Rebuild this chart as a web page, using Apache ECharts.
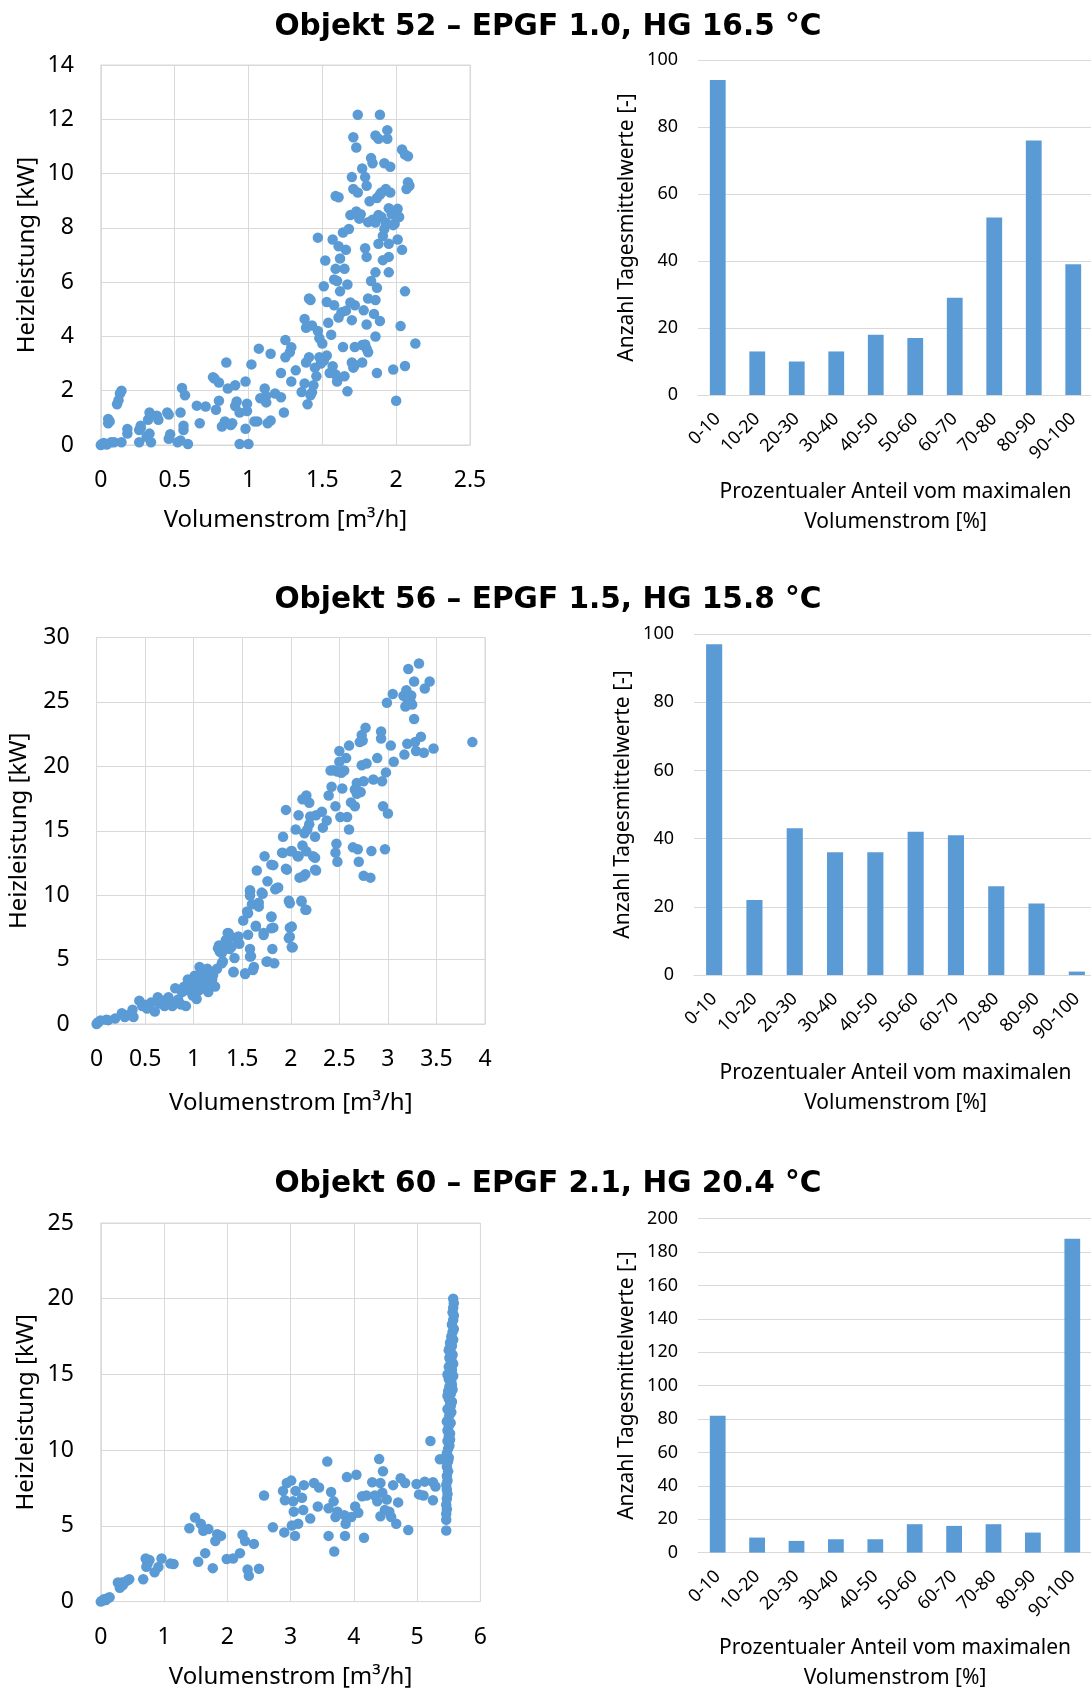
<!DOCTYPE html>
<html><head><meta charset="utf-8">
<script src="https://cdn.jsdelivr.net/npm/echarts@6/dist/echarts.min.js"></script>
<style>html,body{margin:0;padding:0;background:#fff}#c{width:1091px;height:1690px}</style>
</head><body><div id="c"></div>
<script>
const titles = ['Objekt 52 – EPGF 1.0, HG 16.5 °C', 'Objekt 56 – EPGF 1.5, HG 15.8 °C', 'Objekt 60 – EPGF 2.1, HG 20.4 °C'];
const binLabels = ['0-10','10-20','20-30','30-40','40-50','50-60','60-70','70-80','80-90','90-100'];
const bars52 = [94,13,10,13,18,17,29,53,76,39];
const bars56 = [97,22,43,36,36,42,41,26,21,1];
const bars60 = [82,9,7,8,8,17,16,17,12,188];
const xAxisMax = [2.5, 4, 6];
const xAxisStep = [0.5, 0.5, 1];
const yAxisMax = [14, 30, 25];
const yAxisStep = [2, 5, 5];
const barAxisMax = [100, 100, 200];
const barAxisStep = [20, 20, 20];
const scNameX = 'Volumenstrom [m³/h]';
const scNameY = 'Heizleistung [kW]';
const barNameX = 'Prozentualer Anteil vom maximalen\nVolumenstrom [%]';
const barNameY = 'Anzahl Tagesmittelwerte [-]';

const scatter52 = [
[0,0],[0.01,0.05],[0.02,0.07],[0.04,0.02],[0.07,0.1],[0.09,0.1],[0.14,0.1],
[0.05,0.8],[0.06,0.87],[0.05,0.96],
[0.11,1.5],[0.12,1.65],[0.13,1.9],[0.14,2.0],
[0.18,0.42],[0.18,0.59],[0.26,0.1],[0.26,0.55],[0.27,0.62],[0.27,0.71],
[0.32,0.93],[0.33,0.42],[0.34,0.1],[0.34,1.1],[0.31,0.3],[0.33,1.2],[0.38,1.08],
[0.39,0.93],[0.45,1.2],[0.46,1.12],[0.47,0.4],
[0.46,0.23],[0.52,0.1],[0.54,0.17],[0.59,0.04],
[0.54,1.2],[0.55,2.1],[0.57,1.83],[0.56,0.55],[0.56,0.71],
[0.65,1.45],[0.67,0.8],[0.71,1.42],
[0.76,2.5],[0.78,1.3],[0.8,2.3],[0.8,1.63],[0.77,2.45],
[0.82,0.68],[0.84,0.87],[0.85,3.04],[0.86,2.08],[0.88,0.74],[0.89,0.8],
[0.91,1.44],[0.91,2.2],[0.92,1.6],[0.94,0.04],[1.0,0.04],
[0.94,1.2],[0.98,2.34],[0.98,0.6],[0.99,1.25],[0.99,1.52],[1.02,2.97],[1.04,0.87],[1.06,0.87],
[1.07,3.55],[1.08,1.72],[1.11,2.08],[1.12,1.8],[1.12,1.57],[1.13,0.8],[1.15,0.9],[1.15,3.36],
[1.18,1.9],[1.22,2.65],[1.22,1.76],[1.24,1.2],[1.25,3.87],[1.25,3.23],[1.28,3.42],[1.29,3.6],
[1.29,2.34],[1.32,2.75],[1.36,1.95],[1.38,2.27],[1.39,3.04],[1.4,1.5],[1.41,3.23],[1.42,1.83],[1.44,2.2],[1.43,1.94],
[1.38,4.64],[1.39,4.32],[1.41,5.4],[1.42,5.34],[1.43,4.4],[1.45,2.85],[1.46,2.53],[1.47,7.64],[1.48,3.93],
[1.48,3.23],[1.5,3.74],[1.51,3.1],[1.53,3.3],[1.52,6.8],[1.51,5.85],[1.54,4.5],[1.53,5.27],[1.47,4.2],[1.49,3.0],
[1.55,2.65],[1.56,4.06],[1.57,7.57],[1.58,5.15],[1.57,2.9],
[1.59,9.17],[1.61,9.13],[1.59,2.6],[1.6,2.34],
[1.59,6.49],[1.6,6.04],[1.61,7.32],[1.62,5.66],[1.62,6.87],[1.58,6.1],[1.61,4.7],
[1.63,4.89],[1.64,3.61],[1.64,7.83],[1.65,2.53],[1.65,6.49],[1.66,7.19],[1.67,1.98],[1.67,5.91],[1.68,7.96],[1.66,4.95],
[1.69,8.47],[1.7,9.87],[1.71,11.34],[1.72,5.15],[1.71,9.43],[1.7,3.04],[1.71,2.85],[1.72,3.61],[1.73,10.96],[1.7,4.6],[1.69,5.25],[1.72,2.95],
[1.74,12.17],[1.74,9.3],[1.73,8.6],[1.75,8.34],[1.77,3.68],[1.77,3.04],[1.77,10.19],[1.78,4.96],[1.76,8.5],
[1.79,9.87],[1.8,9.55],[1.79,7.25],[1.8,6.93],[1.8,4.44],[1.81,3.42],[1.81,5.4],[1.81,8.21],[1.79,3.7],[1.8,3.55],
[1.82,8.98],[1.83,6.04],[1.83,10.57],[1.84,10.38],[1.85,4.83],[1.86,5.34],[1.86,11.4],[1.86,4.0],[1.84,8.3],
[1.87,2.65],[1.86,6.36],[1.87,5.79],[1.88,7.41],[1.88,8.47],[1.89,12.17],[1.88,11.28],[1.89,9.23],[1.87,9.1],[1.86,8.2],
[1.89,4.57],[1.91,6.81],[1.92,10.38],[1.92,7.96],[1.93,9.43],[1.94,11.6],[1.94,11.28],[1.95,7.41],[1.9,8.4],[1.91,7.7],[1.93,8.2],[1.9,9.3],
[1.95,6.36],[1.95,8.72],[1.95,6.93],[1.96,10.25],[1.96,9.3],[1.98,2.78],[1.99,8.15],[2.0,8.6],[1.97,8.5],[1.98,8.1],
[2.01,7.57],[2.0,1.63],[2.03,4.38],[2.02,8.4],[2.04,7.19],[2.04,10.89],[2.06,10.7],[2.06,5.66],[2.01,8.7],
[2.06,2.91],[2.07,9.43],[2.08,9.68],[2.08,10.64],[2.09,9.55],[2.13,3.74]
];

const scatter56 = [
[0,0],[0.01,0.1],[0.02,0.15],[0.04,0.28],[0.1,0.33],[0.12,0.3],[0.19,0.42],
[0.26,0.83],[0.29,0.55],[0.37,1.1],[0.38,0.55],[0.33,0.7],
[0.44,1.8],[0.47,1.39],[0.5,1.5],[0.56,1.66],[0.52,1.2],
[0.6,0.97],[0.63,2.08],[0.69,1.8],[0.74,2.08],[0.65,1.6],[0.7,1.4],
[0.78,1.39],[0.81,2.77],[0.87,1.52],[0.92,1.39],[0.84,1.9],[0.8,1.6],
[0.88,2.49],[0.94,3.46],[0.97,3.05],[1.01,3.74],[0.95,2.6],[0.99,2.2],[0.9,2.9],[0.96,3.3],[1.0,2.9],
[1.03,1.94],[1.06,4.43],[1.08,2.77],[1.12,3.6],[1.04,3.3],[1.05,2.6],[1.09,3.9],[1.02,3.5],[1.1,3.1],
[1.14,4.29],[1.15,2.49],[1.19,3.46],[1.22,2.91],[1.16,3.9],[1.2,3.8],[1.13,3.2],
[1.24,4.29],[1.26,6.09],[1.3,4.85],[1.33,6.5],[1.27,5.6],[1.29,5.5],[1.31,5.9],
[1.35,7.06],[1.37,5.82],[1.41,4.02],[1.42,5.12],[1.36,7.04],[1.39,6.0],[1.25,5.87],[1.29,4.71],[1.34,6.3],[1.38,6.8],
[1.44,6.65],[1.47,6.23],[1.51,8.03],[1.53,3.88],[1.41,4.06],[1.53,3.94],[1.46,6.8],
[1.55,8.73],[1.56,6.93],[1.58,5.82],[1.58,9.97],[1.58,10.39],[1.59,5.26],[1.62,4.43],[1.64,7.62],[1.58,10.28],[1.56,8.6],[1.61,4.19],[1.58,5.23],[1.6,9.3],
[1.65,11.91],[1.67,9.42],[1.71,10.11],[1.72,7.06],[1.7,10.2],[1.67,9.11],[1.64,7.56],[1.72,6.91],
[1.73,13.02],[1.76,11.08],[1.76,4.85],[1.8,8.31],[1.81,5.82],[1.82,12.33],[1.82,7.48],[1.83,4.71],[1.8,12.37],[1.84,10.46],[1.8,8.34],[1.8,7.43],[1.75,4.84],
[1.85,10.53],[1.87,10.6],[1.92,14.54],[1.95,16.62],[1.91,13.3],[1.92,13.28],[1.96,11.98],
[1.95,12.05],[1.98,9.56],[1.98,6.65],[1.99,7.48],[2.01,5.96],[2.01,13.43],[2.0,13.4],[1.99,9.37],[2.01,7.56],[1.99,6.78],[2.02,5.95],
[2.05,15.1],[2.07,13.02],[2.08,16.2],[2.09,11.36],[2.11,9.56],[2.12,13.85],[2.12,17.45],[2.08,13.02],[2.11,9.5],[2.13,11.47],[2.15,8.86],
[2.15,11.63],[2.16,8.86],[2.16,17.73],[2.17,15.1],[2.19,15.51],[2.19,17.17],[2.16,13.4],[2.14,14.8],[2.2,16.1],
[2.23,13.02],[2.25,14.54],[2.26,11.91],[2.26,16.2],[2.25,12.9],[2.25,11.98],[2.32,16.48],
[2.33,15.24],[2.37,15.79],[2.39,17.73],[2.41,19.67],[2.42,18.42],[2.46,16.9],[2.47,13.99],[2.46,13.3],[2.48,12.6],
[2.5,21.19],[2.5,20.36],[2.51,16.07],[2.53,18.28],[2.55,19.67],[2.57,20.64],[2.58,16.07],[2.44,19.7],[2.52,19.5],[2.48,19.6],
[2.6,15.1],[2.6,21.61],[2.64,13.71],[2.66,16.9],[2.68,17.87],[2.68,18.7],[2.69,13.57],[2.7,12.6],[2.62,17.2],[2.66,18.2],
[2.71,21.88],[2.73,20.08],[2.73,22.44],[2.75,11.5],[2.75,18.84],[2.77,22.99],[2.78,20.22],[2.82,11.36],[2.72,18.0],[2.74,22.0],
[2.83,13.43],[2.85,18.98],[2.89,20.64],[2.93,22.71],[2.93,22.16],[2.94,18.84],[2.95,16.9],[2.97,13.57],
[2.98,19.53],[3.0,16.34],[2.99,24.93],[3.03,21.61],[3.05,25.62],[3.06,20.36],[3.16,25.48],[3.17,20.91],
[3.18,24.65],[3.19,25.9],[3.2,21.75],[3.21,27.56],[3.23,25.07],[3.25,24.79],[3.27,23.68],[3.27,26.59],[3.2,25.2],[3.22,24.9],[3.24,25.5],
[3.28,21.88],[3.29,21.19],[3.32,27.98],[3.34,22.3],[3.37,21.05],[3.38,26.04],[3.43,26.59],[3.47,21.39],
[3.87,21.88]
];

const scatter60 = [
[0,0],[0.02,0.05],[0.05,0.16],[0.11,0.23],[0.14,0.28],[0.08,0.1],
[0.27,1.26],[0.3,0.91],[0.33,1.26],[0.41,1.37],[0.45,1.48],[0.35,1.1],
[0.67,1.48],[0.71,2.85],[0.74,2.51],[0.77,2.74],[0.72,2.3],
[0.85,1.94],[0.91,2.28],[0.96,2.85],[1.1,2.51],[1.15,2.48],
[1.4,4.84],[1.49,5.55],[1.54,2.63],[1.58,5.14],[1.62,4.68],[1.65,3.2],[1.7,4.79],[1.77,2.21],
[1.81,4.0],[1.84,4.45],[1.9,4.34],
[1.99,2.81],[2.09,2.85],[2.2,3.2],[2.24,4.41],[2.28,4.0],[2.32,2.12],[2.34,1.71],[2.42,3.81],[2.5,2.17],
[2.58,7.01],[2.72,4.91],[2.88,7.31],[2.9,4.57],[2.91,6.69],[2.94,7.83],[3.01,7.99],[3.02,5.02],
[3.04,6.62],[3.07,4.34],[3.08,7.31],[3.05,5.94],[3.12,5.14],[3.18,6.85],[3.2,6.05],[3.21,7.69],
[3.31,5.48],[3.37,7.83],[3.45,7.53],[3.43,6.28],[3.58,9.25],[3.6,6.16],[3.6,4.34],[3.64,7.24],
[3.68,6.62],[3.69,3.31],[3.71,5.59],[3.74,5.94],[3.85,5.71],[3.86,4.34],[3.87,5.14],[3.89,8.22],
[3.96,5.59],[4.02,6.28],[4.04,8.38],[4.07,5.87],[4.13,6.96],[4.16,4.22],[4.2,7.01],
[4.29,7.88],[4.33,7.01],[4.37,6.62],[4.4,9.41],[4.42,7.83],[4.42,5.64],[4.45,7.19],[4.46,8.61],
[4.49,6.05],[4.52,6.74],[4.56,5.94],[4.59,5.59],[4.62,7.69],[4.67,5.14],[4.7,6.55],[4.74,8.15],
[4.81,7.83],[4.86,4.73],[4.99,7.76],[5.03,7.08],[5.1,7.01],[5.12,7.92],[5.21,10.6],[5.25,7.88],
[5.25,6.69],[5.29,7.6],[5.36,9.4],
[5.46,4.7],[5.46,5.4],[5.46,5.8],[5.47,6.1],[5.46,6.4],[5.47,6.8],[5.48,7.1],[5.47,7.4],[5.46,7.7],[5.48,8.0],
[5.47,8.3],[5.49,8.6],[5.47,8.9],[5.48,9.2],[5.49,9.3],[5.45,9.5],[5.50,9.5],[5.47,9.8],[5.49,10.1],[5.51,10.3],
[5.48,10.6],[5.52,10.7],[5.50,10.9],[5.52,11.1],[5.48,11.3],[5.50,11.6],[5.53,11.8],[5.47,11.9],[5.49,12.0],[5.51,12.3],
[5.54,12.5],[5.48,12.7],[5.53,12.9],[5.52,13.0],[5.55,13.2],[5.50,13.4],[5.48,13.6],[5.53,13.7],[5.49,13.9],[5.56,14.0],
[5.51,14.2],[5.55,14.3],[5.54,14.5],[5.50,14.7],[5.57,14.9],[5.48,15.0],[5.52,15.1],[5.55,15.3],[5.50,15.5],[5.57,15.7],
[5.53,15.9],[5.54,16.0],[5.51,16.1],[5.56,16.3],[5.53,16.5],[5.50,16.6],[5.51,16.7],[5.55,16.9],[5.52,17.1],[5.57,17.3],
[5.54,17.5],[5.56,17.8],[5.58,18.0],[5.55,18.3],[5.57,18.6],[5.58,18.9],[5.56,19.1],[5.57,19.4],[5.58,19.7],[5.57,20.0]
];

const BLUE = '#5B9BD5';
const GRIDC = '#d9d9d9';
const FONT = 'Noto Sans';
const TXT = '#000';

const layout = [
  { titleTop: 7,
    sc: {left:100.8, top:65, width:369.2, height:380}, scGapX:63, scGapY:62,
    bar:{left:698, top:60, width:395, height:335}, barGapX:82, barGapY:60 },
  { titleTop: 580,
    sc: {left:96.6, top:637.5, width:388.4, height:386.5}, scGapX:67, scGapY:65,
    bar:{left:694, top:634, width:403, height:341}, barGapX:83, barGapY:60 },
  { titleTop: 1164,
    sc: {left:100.8, top:1223, width:379.6, height:378.6}, scGapX:64, scGapY:63,
    bar:{left:698, top:1218.6, width:394, height:334}, barGapX:80, barGapY:60 }
];
const scData = [scatter52, scatter56, scatter60];
const barData = [bars52, bars56, bars60];

const option = { animation:false, backgroundColor:'#fff', title:[], grid:[], xAxis:[], yAxis:[], series:[] };
layout.forEach((L, i) => {
  option.title.push({ text: titles[i], left: 543, top: L.titleTop, textAlign:'center',
    textStyle:{ fontFamily:'DejaVu Sans', fontWeight:'bold', fontSize:29.6, color:TXT } });
  const gs = 2*i, gb = 2*i+1;
  option.grid.push(Object.assign({ show:true, borderColor:GRIDC, borderWidth:1, containLabel:false, outerBoundsMode:'none' }, L.sc));
  option.grid.push(Object.assign({ show:false, containLabel:false, outerBoundsMode:'none' }, L.bar));
  option.xAxis.push({ gridIndex:gs, type:'value', min:0, max:xAxisMax[i], interval:xAxisStep[i],
    axisLine:{show:true, lineStyle:{color:GRIDC}}, axisTick:{show:false},
    splitLine:{show:true, lineStyle:{color:GRIDC}},
    axisLabel:{fontFamily:FONT, fontSize:23, color:TXT, margin:24},
    name:scNameX, nameLocation:'middle', nameGap:L.scGapX,
    nameTextStyle:{fontFamily:FONT, fontSize:24, color:TXT} });
  option.yAxis.push({ gridIndex:gs, type:'value', min:0, max:yAxisMax[i], interval:yAxisStep[i],
    axisLine:{show:true, lineStyle:{color:GRIDC}}, axisTick:{show:false},
    splitLine:{show:true, lineStyle:{color:GRIDC}},
    axisLabel:{fontFamily:FONT, fontSize:23, color:TXT, margin:27},
    name:scNameY, nameLocation:'middle', nameGap:L.scGapY,
    nameTextStyle:{fontFamily:FONT, fontSize:24, color:TXT} });
  option.xAxis.push({ gridIndex:gb, type:'category', data:binLabels,
    axisLine:{show:true, lineStyle:{color:GRIDC}}, axisTick:{show:false},
    axisLabel:{fontFamily:FONT, fontSize:18, color:TXT, rotate:45, interval:0, margin:21},
    name:barNameX, nameLocation:'middle', nameGap:L.barGapX,
    nameTextStyle:{fontFamily:FONT, fontSize:21, color:TXT, lineHeight:30} });
  option.yAxis.push({ gridIndex:gb, type:'value', min:0, max:barAxisMax[i], interval:barAxisStep[i],
    axisLine:{show:false}, axisTick:{show:false},
    splitLine:{show:true, lineStyle:{color:GRIDC}},
    axisLabel:{fontFamily:FONT, fontSize:18, color:TXT, margin:20},
    name:barNameY, nameLocation:'middle', nameGap:L.barGapY,
    nameTextStyle:{fontFamily:FONT, fontSize:21, color:TXT} });
  option.series.push({ type:'scatter', xAxisIndex:gs, yAxisIndex:gs, data:scData[i],
    symbol:'circle', symbolSize:10.5, itemStyle:{color:BLUE, opacity:1} });
  option.series.push({ type:'bar', xAxisIndex:gb, yAxisIndex:gb, data:barData[i],
    barWidth:'40%', itemStyle:{color:BLUE} });
});
const chart = echarts.init(document.getElementById('c'));
chart.setOption(option);
</script>
</body></html>
